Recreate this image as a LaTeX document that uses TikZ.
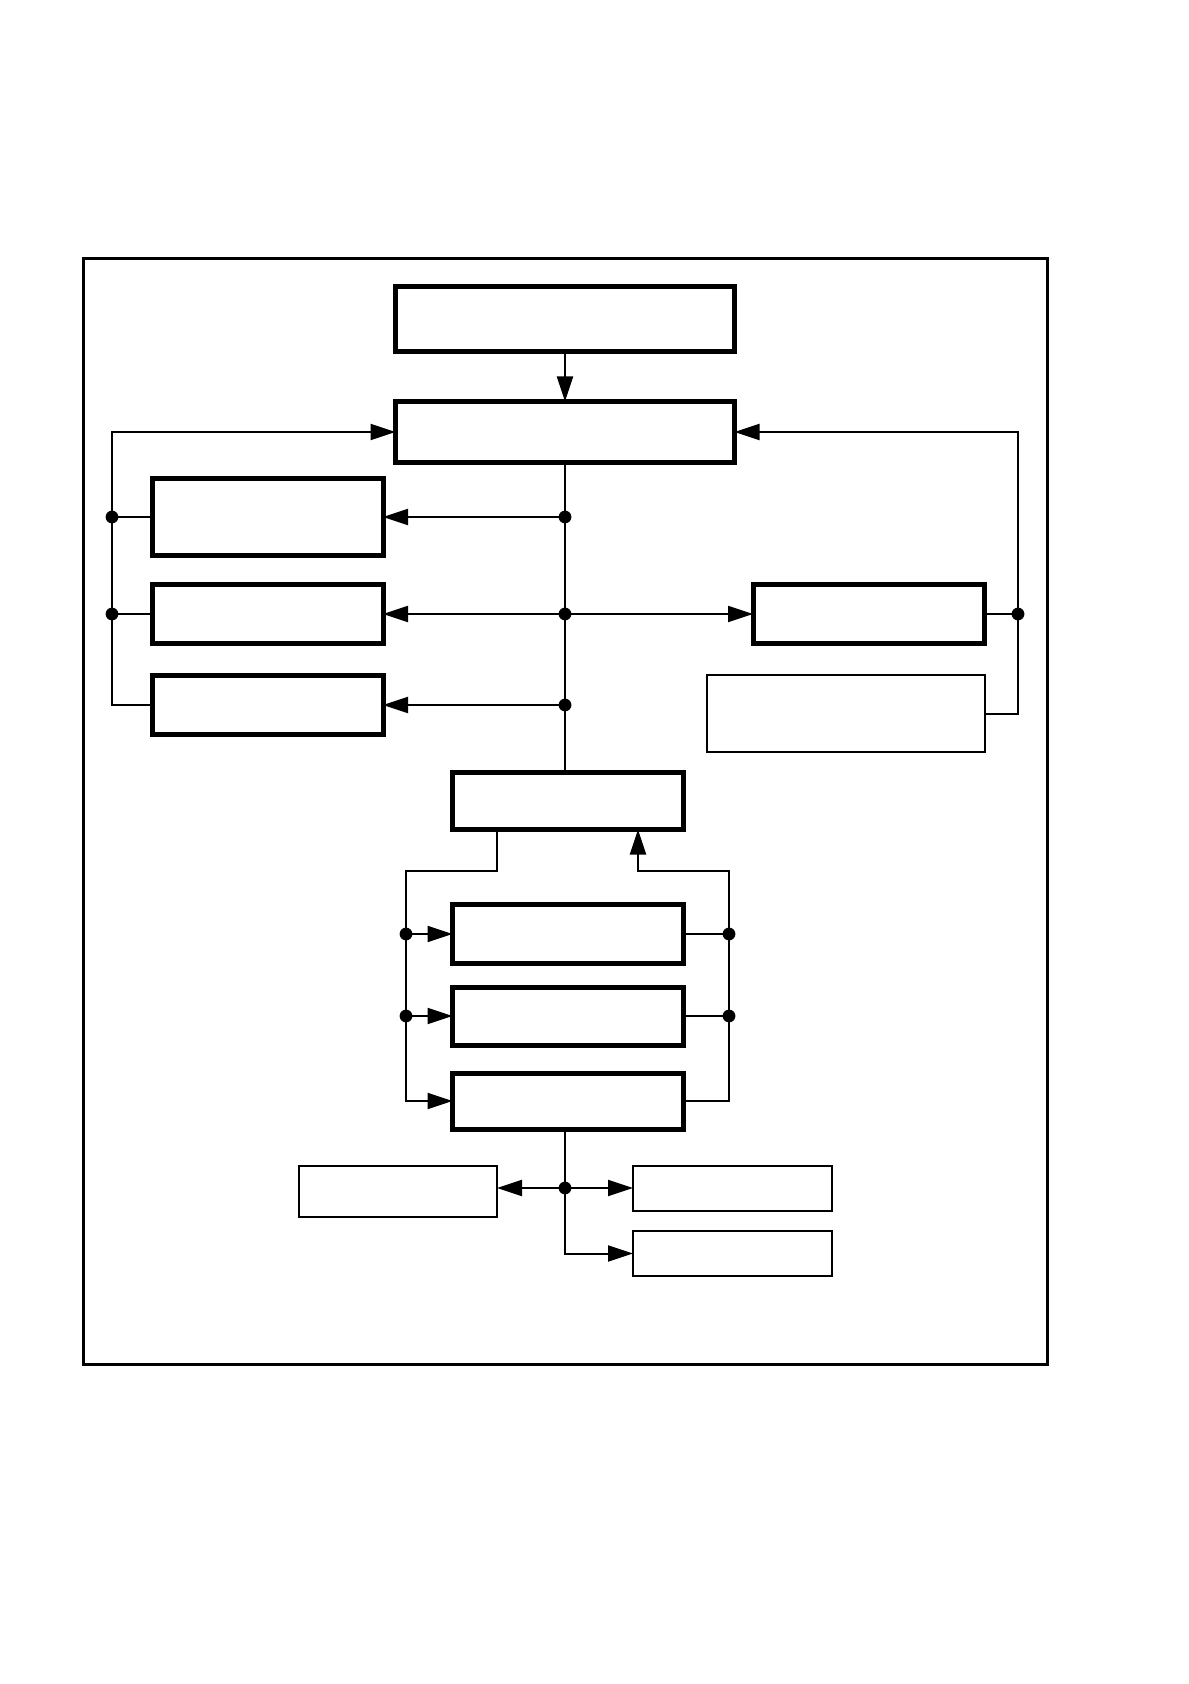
\documentclass[tikz,border=0pt]{standalone}
\usetikzlibrary{arrows.meta}
\begin{document}
\begin{tikzpicture}[x=0.5pt,y=-0.5pt,
  bloc/.style={draw, line width=2.5pt, inner sep=0pt, outer sep=0pt},
  note/.style={draw, line width=1pt, inner sep=0pt, outer sep=0pt},
  lien/.style={line width=1pt},
  fl/.style={-{Triangle[length=12.5pt,width=8pt]}}]
  \useasboundingbox (0,0) rectangle (1188,1684);
  % Cadre
  \draw[line width=1.5pt] (83.7,258.5) rectangle (1047,1364);
  % Blocs du haut
  \node[bloc, minimum width=169.5pt, minimum height=32.5pt] (src) at (565,319) {};
  \node[bloc, minimum width=169.5pt, minimum height=30.5pt] (main) at (565,432) {};
  \node[bloc, minimum width=115.5pt, minimum height=38.5pt] (l1) at (267.5,517) {};
  \node[bloc, minimum width=115.5pt, minimum height=29.5pt] (l2) at (267.5,614) {};
  \node[bloc, minimum width=115.5pt, minimum height=29.5pt] (l3) at (267.5,705) {};
  \node[bloc, minimum width=115.5pt, minimum height=29.5pt] (r1) at (868.5,614) {};
  \node[note, minimum width=139pt, minimum height=38.5pt] (rn) at (846,713.5) {};
  % Blocs du bas
  \node[bloc, minimum width=115.5pt, minimum height=28.5pt] (mid) at (568,801) {};
  \node[bloc, minimum width=115.5pt, minimum height=29.5pt] (a1) at (568,934) {};
  \node[bloc, minimum width=115.5pt, minimum height=29pt] (a2) at (568,1016) {};
  \node[bloc, minimum width=115.5pt, minimum height=28pt] (a3) at (568,1101) {};
  \node[note, minimum width=99pt, minimum height=25.5pt] (o1) at (398,1191.5) {};
  \node[note, minimum width=99.5pt, minimum height=22.5pt] (o2) at (732.5,1188.5) {};
  \node[note, minimum width=99.5pt, minimum height=22.5pt] (o3) at (732.5,1253.5) {};
  % Liaisons du haut
  \draw[lien,fl] (src) -- (main);
  \draw[lien] (main.south) -- (main.south |- mid.north);
  \foreach \b in {l1,l2,l3} {
    \draw[lien,fl] (main.south |- \b.east) -- (\b.east);
    \fill (main.south |- \b.east) circle (3.2pt);
  }
  \draw[lien,fl] (main.south |- r1.west) -- (r1.west);
  % Bus gauche
  \coordinate (gx) at (112,0);
  \draw[lien,fl] (l3.west) -| (gx |- main.west) -- (main.west);
  \foreach \b in {l1,l2} {
    \draw[lien] (gx |- \b.west) -- (\b.west);
    \fill (gx |- \b.west) circle (3.2pt);
  }
  % Bus droit
  \coordinate (dx) at (1018,0);
  \draw[lien,fl] (rn.east) -| (dx |- main.east) -- (main.east);
  \draw[lien] (r1.east) -- (dx |- r1.east);
  \fill (dx |- r1.east) circle (3.2pt);
  % Boucle du bas
  \coordinate (bx) at (406,871);
  \coordinate (ex) at (729,871);
  \draw[lien,fl] ([xshift=-35.5pt]mid.south) |- (bx) |- (a3.west);
  \draw[lien,fl] (a3.east) -| (ex) -| ([xshift=35pt]mid.south);
  \foreach \b in {a1,a2} {
    \draw[lien,fl] (bx |- \b.west) -- (\b.west);
    \fill (bx |- \b.west) circle (3.2pt);
    \draw[lien] (\b.east) -- (ex |- \b.east);
    \fill (ex |- \b.east) circle (3.2pt);
  }
  % Sorties
  \coordinate (bv) at (565,1188);
  \draw[lien] (a3.south -| bv) -- (bv);
  \draw[lien,fl] (bv) |- (o3.west);
  \draw[lien,fl] (bv) -- (bv -| o1.east);
  \draw[lien,fl] (bv) -- (bv -| o2.west);
  \fill (bv) circle (3.2pt);
\end{tikzpicture}
\end{document}
